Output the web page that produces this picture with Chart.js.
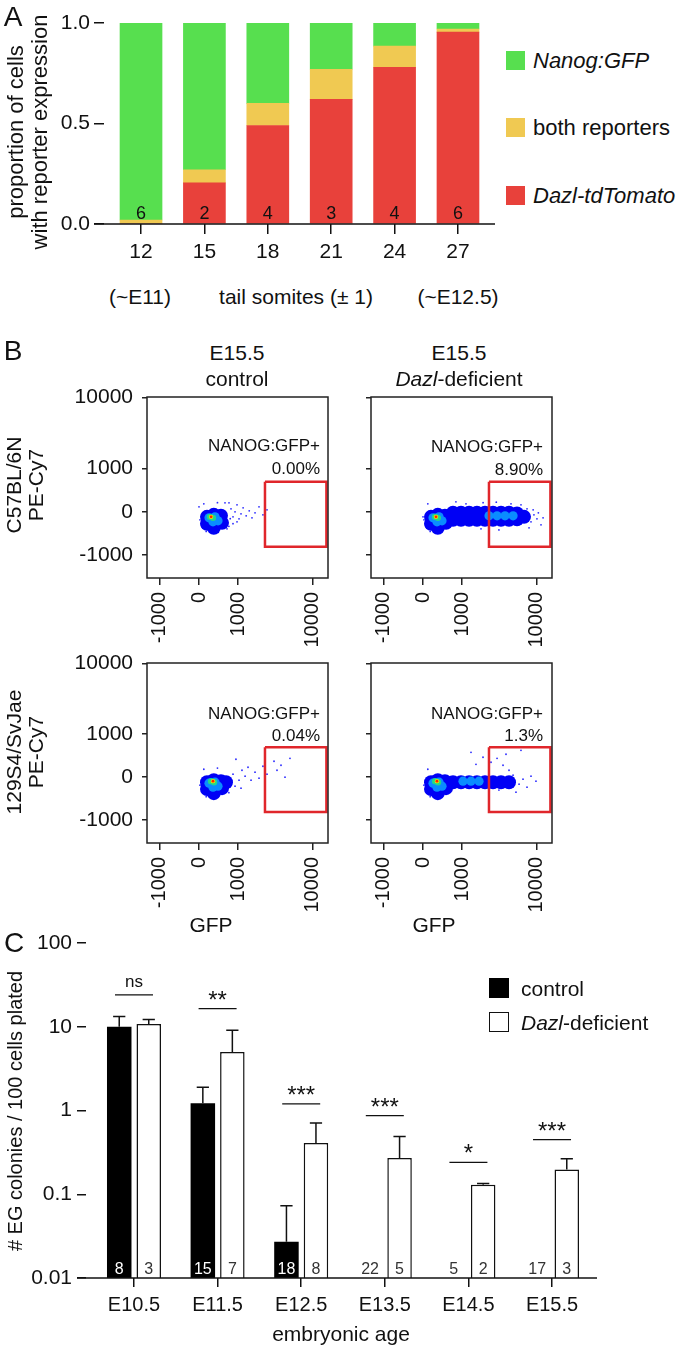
<!DOCTYPE html>
<html><head><meta charset="utf-8">
<script src="https://cdn.jsdelivr.net/npm/chart.js@4.4.1/dist/chart.umd.min.js"></script>
<style>
html,body{margin:0;padding:0;background:#fff;}
#root{position:relative;width:677px;height:1346px;overflow:hidden;font-family:'Liberation Sans',Arial,Helvetica,sans-serif;color:#111;}
canvas{position:absolute;}
.t{position:absolute;white-space:nowrap;line-height:1;}
.cc{transform:translate(-50%,-50%);}
.lc{transform:translate(0,-50%);}
.rc{transform:translate(-100%,-50%);}
.rot{transform:translate(-50%,-50%) rotate(-90deg);text-align:center;}
.sq{position:absolute;box-sizing:border-box;}
</style></head><body><div id="root">
<canvas id="cA" width="520" height="270" style="left:0;top:0"></canvas>
<canvas id="cB1" width="340" height="280" style="left:0;top:380px"></canvas>
<canvas id="cB2" width="337" height="280" style="left:340px;top:380px"></canvas>
<canvas id="cB3" width="340" height="280" style="left:0;top:646px"></canvas>
<canvas id="cB4" width="337" height="280" style="left:340px;top:646px"></canvas>
<canvas id="cC" width="677" height="446" style="left:0;top:900px"></canvas>

<!-- panel letters -->
<div class="t cc" style="left:13px;top:17px;font-size:28px">A</div>
<div class="t cc" style="left:13px;top:351px;font-size:28px">B</div>
<div class="t cc" style="left:14px;top:943px;font-size:28px">C</div>

<!-- panel A texts -->
<div class="t rot" style="left:28px;top:132px;font-size:22px;line-height:24px">proportion of cells<br>with reporter expression</div>
<div class="t cc" style="left:140px;top:296px;font-size:21px">(~E11)</div>
<div class="t cc" style="left:296px;top:296px;font-size:21px">tail somites (± 1)</div>
<div class="t cc" style="left:458px;top:296px;font-size:21px">(~E12.5)</div>
<div class="sq" style="left:506px;top:51px;width:19px;height:19px;background:#57DF4F"></div>
<div class="sq" style="left:506px;top:118px;width:19px;height:19px;background:#F0C952"></div>
<div class="sq" style="left:506px;top:186px;width:19px;height:19px;background:#E8413B"></div>
<div class="t lc" style="left:533px;top:61px;font-size:22px;font-style:italic">Nanog:GFP</div>
<div class="t lc" style="left:533px;top:128px;font-size:22px">both reporters</div>
<div class="t lc" style="left:533px;top:196px;font-size:22px;font-style:italic">Dazl-tdTomato</div>

<!-- panel B texts -->
<div class="t cc" style="left:237px;top:352px;font-size:21px">E15.5</div>
<div class="t cc" style="left:237px;top:378px;font-size:21px">control</div>
<div class="t cc" style="left:459px;top:352px;font-size:21px">E15.5</div>
<div class="t cc" style="left:459px;top:378px;font-size:21px"><i>Dazl</i>-deficient</div>
<div class="t rot" style="left:25px;top:485px;font-size:21px;line-height:22px">C57BL/6N<br>PE-Cy7</div>
<div class="t rot" style="left:25px;top:752px;font-size:21px;line-height:22px">129S4/SvJae<br>PE-Cy7</div>
<div class="t rc" style="left:320px;top:445px;font-size:17px">NANOG:GFP+</div>
<div class="t rc" style="left:320px;top:468px;font-size:17px">0.00%</div>
<div class="t rc" style="left:543px;top:446px;font-size:17px">NANOG:GFP+</div>
<div class="t rc" style="left:543px;top:469px;font-size:17px">8.90%</div>
<div class="t rc" style="left:320px;top:713px;font-size:17px">NANOG:GFP+</div>
<div class="t rc" style="left:320px;top:735px;font-size:17px">0.04%</div>
<div class="t rc" style="left:543px;top:713px;font-size:17px">NANOG:GFP+</div>
<div class="t rc" style="left:543px;top:735px;font-size:17px">1.3%</div>
<div class="t cc" style="left:211px;top:924px;font-size:21px">GFP</div>
<div class="t cc" style="left:434px;top:924px;font-size:21px">GFP</div>

<!-- panel C texts -->
<div class="t rot" style="left:15px;top:1111px;font-size:20px"># EG colonies / 100 cells plated</div>
<div class="t cc" style="left:341px;top:1333px;font-size:21px">embryonic age</div>
<div class="sq" style="left:489px;top:978px;width:20px;height:20px;background:#000"></div>
<div class="sq" style="left:489px;top:1012px;width:20px;height:20px;background:#fff;border:1.5px solid #111"></div>
<div class="t lc" style="left:521px;top:988px;font-size:21px">control</div>
<div class="t lc" style="left:521px;top:1022px;font-size:21px"><i>Dazl</i>-deficient</div>
</div>
<script>
// ---------------- Panel A data ----------------
const somites = ['12', '15', '18', '21', '24', '27'];
const dazlTdTomato = [0, 0.205, 0.49, 0.62, 0.78, 0.955];
const bothReporters = [0.02, 0.065, 0.11, 0.15, 0.105, 0.015];
const nanogGFP = [0.98, 0.73, 0.40, 0.23, 0.115, 0.03];
const embryosA = [6, 2, 4, 3, 4, 6];

// ---------------- Panel B data (raw fluorescence; [GFP, PE-Cy7, density level]) ----------------
// density level: 0 sparse, 1 low, 2 medium, 3 high, 4 very high, 5 peak
const flowTicks = [-1000, 0, 1000, 10000];
const gateGFP = [2400, 15000];
const gatePECy7 = [-736, 600];
const b6Control = [
  [167,-87,1],[167,-210,1],[315,-52,1],[315,-176,1],[315,-289,1],[485,-69,1],[512,-194,1],
  [210,-105,2],[343,-87,2],[297,-176,2],[413,-158,2],
  [231,-87,3],[297,-105,3],[255,-87,4],[255,-87,5],
  [763,52,0],[826,-87,0],[892,0,0],[960,122,0],[1032,-122,0],[1107,-35,0],[1190,69,0],[1320,-69,0],
  [1460,17,0],[1597,-105,0],[1760,-17,0],[1995,87,0],[2254,-52,0],[2555,35,0],[826,-210,0],
  [960,-176,0],[703,158,0],[0,87,0],[62,-270,0],[646,-308,0],[591,158,0],
  [20,-140,0],[100,140,0],[400,160,0],[700,-260,0],[420,-380,0],[150,-360,0],[740,-120,0]
];
const b6Dazl = [
  [167,-87,1],[167,-210,1],[315,-52,1],[315,-176,1],[315,-289,1],[485,-69,1],[512,-194,1],
  [703,-17,1],[703,-140,1],[960,-17,1],[960,-140,1],[1273,-17,1],[1273,-140,1],[1647,-17,1],[1647,-140,1],
  [2121,-17,1],[2121,-140,1],[2716,-17,1],[2716,-140,1],[3458,-17,1],[3458,-140,1],[4396,-17,1],[4396,-140,1],
  [5580,-30,1],[5580,-130,1],[6870,-87,1],
  [210,-105,2],[343,-87,2],[297,-176,2],[413,-158,2],[2403,-69,2],[3070,-69,2],[3900,-69,2],[4960,-69,2],
  [255,-87,3],[315,-105,3],[275,-87,4],[275,-87,5],
  [7510,52,0],[8450,-176,0],[9220,-52,0],[10080,-122,0],[11360,-231,0],[12070,-105,0],[7970,-289,0],
  [6280,122,0],[4668,140,0],[3250,-329,0],[1874,-308,0],[1145,140,0],[792,176,0],[0,-87,0],[62,-270,0],
  [9000,35,0],[10500,-17,0],[20,-140,0],[100,140,0],[150,-360,0],[2000,160,0],[3000,170,0]
];
const s129Control = [
  [167,-87,1],[167,-210,1],[315,-52,1],[315,-176,1],[315,-289,1],[485,-69,1],[512,-194,1],[618,-87,1],
  [210,-105,2],[343,-87,2],[297,-176,2],[413,-158,2],
  [255,-69,3],[320,-87,3],[297,-69,4],[297,-69,5],
  [826,52,0],[923,329,0],[1032,-52,0],[1145,122,0],[1273,17,0],[1403,176,0],[1549,-52,0],[1760,87,0],
  [1995,-17,0],[2254,194,0],[2555,52,0],[3160,289,0],[3458,122,0],[3900,213,0],[4396,0,0],[5100,349,0],
  [892,-158,0],[1107,-194,0],[20,-140,0],[100,140,0],[400,160,0],[150,-360,0],[700,-280,0]
];
const s129Dazl = [
  [167,-87,1],[167,-210,1],[315,-52,1],[315,-176,1],[315,-289,1],[485,-69,1],[512,-194,1],
  [703,-87,1],[960,-87,1],[1273,-87,1],[1647,-87,1],[2121,-87,1],[2716,-87,1],[3458,-87,1],[4396,-87,1],
  [210,-105,2],[343,-87,2],[297,-176,2],[413,-158,2],[1032,-69,2],[1357,-69,2],[1760,-69,2],
  [255,-69,3],[320,-87,3],[297,-69,4],[297,-69,5],
  [4960,35,0],[5930,-122,0],[6670,-35,0],[7510,-176,0],[8450,17,0],[9790,-69,0],[2555,270,0],[3070,349,0],
  [3675,213,0],[4396,122,0],[1995,370,0],[1597,231,0],[1357,479,0],[2403,-231,0],[3250,-231,0],
  [5412,-270,0],[6280,526,0],[4018,435,0],[20,-140,0],[100,140,0],[150,-360,0]
];

// ---------------- Panel C data ----------------
const ages = ['E10.5', 'E11.5', 'E12.5', 'E13.5', 'E14.5', 'E15.5'];
const ctrlMean = [10, 1.22, 0.027, null, null, null];
const ctrlSem = [3.3, 0.68, 0.046, null, null, null];
const dazlMean = [10.8, 4.98, 0.41, 0.27, 0.13, 0.197];
const dazlSem = [1.4, 4.1, 0.30, 0.22, 0.004, 0.068];
const ctrlN = [8, 15, 18, 22, 5, 17];
const dazlN = [3, 7, 8, 5, 2, 3];
const sigLabel = ['ns', '**', '***', '***', '*', '***'];
const sigLevel = [24, 16.5, 1.2, 0.87, 0.24, 0.45];
const cTicks = [0.01, 0.1, 1, 10, 100];

// ---------------- common ----------------
const FF = "'Liberation Sans', Arial, Helvetica, sans-serif";
Chart.defaults.font.family = FF;
Chart.defaults.color = '#111';
const INK = '#111';
const baseOpts = {responsive:false, animation:false, events:[], plugins:{legend:{display:false}, tooltip:{enabled:false}}};
const noPad = s => { s.paddingLeft = 0; s.paddingRight = 0; s.paddingTop = 0; s.paddingBottom = 0; };
const fixH = h => s => { s.height = h; noPad(s); };
const fixW = w => s => { s.width = w; noPad(s); };

// ---------------- Panel A ----------------
const aPlugin = {id:'aExtras', afterDatasetsDraw(chart){
  const {ctx, scales:{x, y}} = chart;
  ctx.save();
  ctx.strokeStyle = INK; ctx.lineWidth = 1.5;
  ctx.beginPath(); ctx.moveTo(x.left - 10, y.bottom); ctx.lineTo(x.right, y.bottom); ctx.stroke();
  ctx.fillStyle = INK; ctx.font = '18px ' + FF; ctx.textAlign = 'center'; ctx.textBaseline = 'alphabetic';
  embryosA.forEach((n, i) => ctx.fillText(String(n), x.getPixelForValue(i), y.bottom - 5));
  ctx.restore();
}};
const toXY = arr => arr.map((v, i) => ({x:i, y:v}));
new Chart(document.getElementById('cA'), {
  type:'bar',
  data:{datasets:[
    {label:'Dazl-tdTomato', data:toXY(dazlTdTomato), backgroundColor:'#E8413B', stack:'s', barThickness:42, borderWidth:0},
    {label:'both reporters', data:toXY(bothReporters), backgroundColor:'#F0C952', stack:'s', barThickness:42, borderWidth:0},
    {label:'Nanog:GFP', data:toXY(nanogGFP), backgroundColor:'#57DF4F', stack:'s', barThickness:42, borderWidth:0}
  ]},
  options:Object.assign({}, baseOpts, {
    layout:{padding:{top:23, left:0, right:25, bottom:0}},
    scales:{
      x:{type:'linear', min:-0.584, max:5.584, offset:false,
        afterBuildTicks:s => { s.ticks = somites.map((_, i) => ({value:i})); },
        ticks:{callback:(v, i) => somites[i], font:{size:21}, color:INK, padding:6, autoSkip:false, maxRotation:0},
        grid:{display:true, drawOnChartArea:false, drawTicks:true, tickLength:10, color:INK, lineWidth:1.5, offset:false},
        border:{display:false}, afterFit:fixH(46)},
      y:{type:'linear', min:0, max:1, stacked:true,
        ticks:{stepSize:0.5, callback:v => v.toFixed(1), font:{size:21}, color:INK, padding:4},
        grid:{display:true, drawOnChartArea:false, drawTicks:true, tickLength:10, color:INK, lineWidth:1.5},
        border:{display:false}, afterFit:fixW(104)}
    }
  }),
  plugins:[aPlugin]
});

// ---------------- Panel B ----------------
const asX = v => Math.asinh(v / 700);
const asY = v => Math.asinh(v / 550);
const levelStyle = [
  {c:'#2a2aff', r:0.9}, {c:'#0000f5', r:7}, {c:'#0a8cff', r:4.6},
  {c:'#22d98a', r:3.2}, {c:'#f0e400', r:2.2}, {c:'#ff2400', r:1.4}
];
const boxPlugin = {id:'box', afterDatasetsDraw(chart){
  const {ctx, chartArea:a} = chart;
  ctx.save(); ctx.strokeStyle = '#222'; ctx.lineWidth = 1.5;
  ctx.strokeRect(a.left, a.top, a.right - a.left, a.bottom - a.top); ctx.restore();
}};
function makeFlow(id, cloud, showY, yw, padTop, padRight, xh){
  const gate = [[gateGFP[0], gatePECy7[1]], [gateGFP[1], gatePECy7[1]], [gateGFP[1], gatePECy7[0]],
                [gateGFP[0], gatePECy7[0]], [gateGFP[0], gatePECy7[1]]];
  const ds = [{type:'line', data:gate.map(p => ({x:asX(p[0]), y:asY(p[1])})), borderColor:'#E0262B',
               borderWidth:2.5, pointRadius:0, showLine:true, fill:false, tension:0, borderJoinStyle:'miter'}];
  for (let L = 5; L >= 0; L--) {
    ds.push({type:'scatter', data:cloud.filter(p => p[2] === L).map(p => ({x:asX(p[0]), y:asY(p[1])})),
             backgroundColor:levelStyle[L].c, pointRadius:levelStyle[L].r, pointBorderWidth:0, borderWidth:0});
  }
  new Chart(document.getElementById(id), {
    type:'scatter',
    data:{datasets:ds},
    options:Object.assign({}, baseOpts, {
      layout:{padding:{top:padTop, left:0, right:padRight, bottom:0}},
      scales:{
        x:{type:'linear', min:-1.534, max:3.805,
          afterBuildTicks:s => { s.ticks = flowTicks.map(v => ({value:asX(v)})); },
          ticks:{callback:(v, i) => String(flowTicks[i]), minRotation:90, maxRotation:90, padding:7,
                 font:{size:20}, color:INK, autoSkip:false},
          grid:{display:true, drawOnChartArea:false, drawTicks:true, tickLength:7, color:'#222', lineWidth:1.5},
          border:{display:false}, afterFit:fixH(xh)},
        y:{type:'linear', min:-2.08, max:3.61,
          afterBuildTicks:s => { s.ticks = flowTicks.map(v => ({value:asY(v)})); },
          ticks:{display:showY, callback:(v, i) => String(flowTicks[i]), padding:9, font:{size:21}, color:INK},
          grid:{display:true, drawOnChartArea:false, drawTicks:true, tickLength:5, color:'#222', lineWidth:1.5},
          border:{display:false}, afterFit:fixW(yw)}
      }
    }),
    plugins:[boxPlugin]
  });
}
makeFlow('cB1', b6Control, true, 147, 17, 12, 82);
makeFlow('cB2', b6Dazl, false, 31, 17, 125, 82);
makeFlow('cB3', s129Control, true, 147, 17, 12, 83);
makeFlow('cB4', s129Dazl, false, 31, 17, 125, 83);

// ---------------- Panel C ----------------
const cPlugin = {id:'cExtras', afterDatasetsDraw(chart){
  const {ctx, scales:{x, y}} = chart;
  const m0 = chart.getDatasetMeta(0), m1 = chart.getDatasetMeta(1);
  ctx.save();
  ctx.strokeStyle = INK; ctx.lineWidth = 1.5;
  ctx.beginPath(); ctx.moveTo(x.left - 9, y.bottom); ctx.lineTo(x.right, y.bottom); ctx.stroke();
  const err = (el, mean, sem) => {
    if (mean == null || sem == null) return;
    const b = y.getPixelForValue(mean), t = y.getPixelForValue(mean + sem), hw = el.width / 4;
    ctx.beginPath(); ctx.moveTo(el.x, b); ctx.lineTo(el.x, t);
    ctx.moveTo(el.x - hw, t); ctx.lineTo(el.x + hw, t); ctx.stroke();
  };
  ages.forEach((a, i) => { err(m0.data[i], ctrlMean[i], ctrlSem[i]); err(m1.data[i], dazlMean[i], dazlSem[i]); });
  // significance
  ctx.lineWidth = 1.3; ctx.textAlign = 'center'; ctx.textBaseline = 'alphabetic'; ctx.fillStyle = INK;
  sigLabel.forEach((s, i) => {
    const cx = x.getPixelForValue(i), ly = y.getPixelForValue(sigLevel[i]);
    ctx.beginPath(); ctx.moveTo(cx - 19, ly); ctx.lineTo(cx + 19, ly); ctx.stroke();
    if (s === 'ns') { ctx.font = '17px ' + FF; ctx.fillText(s, cx, ly - 8); }
    else { ctx.font = '24px ' + FF; ctx.fillText(s, cx, ly - 1); }
  });
  // n labels
  ctx.font = '16px ' + FF;
  ages.forEach((a, i) => {
    const cx = x.getPixelForValue(i), e1 = m1.data[i];
    const off = e1.x - cx;
    ctx.fillStyle = ctrlMean[i] == null ? '#333' : '#fff';
    ctx.fillText(String(ctrlN[i]), cx - off, y.bottom - 4);
    ctx.fillStyle = '#333';
    ctx.fillText(String(dazlN[i]), e1.x, y.bottom - 4);
  });
  ctx.restore();
}};
new Chart(document.getElementById('cC'), {
  type:'bar',
  data:{datasets:[
    {label:'control', data:toXY(ctrlMean), backgroundColor:'#000', borderColor:'#000', borderWidth:0,
     categoryPercentage:0.706, barPercentage:0.83},
    {label:'Dazl-deficient', data:toXY(dazlMean), backgroundColor:'#fff', borderColor:INK, borderWidth:1.5,
     categoryPercentage:0.706, barPercentage:0.83}
  ]},
  options:Object.assign({}, baseOpts, {
    layout:{padding:{top:43, left:0, right:80, bottom:0}},
    scales:{
      x:{type:'linear', min:-0.574, max:5.538, offset:false,
        afterBuildTicks:s => { s.ticks = ages.map((_, i) => ({value:i})); },
        ticks:{callback:(v, i) => ages[i], font:{size:20}, color:INK, padding:6, autoSkip:false, maxRotation:0},
        grid:{display:true, drawOnChartArea:false, drawTicks:true, tickLength:9, color:INK, lineWidth:1.5, offset:false},
        border:{display:false}, afterFit:fixH(68)},
      y:{type:'logarithmic', min:0.01, max:100,
        afterBuildTicks:s => { s.ticks = cTicks.map(v => ({value:v})); },
        ticks:{callback:v => String(v), font:{size:21}, color:INK, padding:5},
        grid:{display:true, drawOnChartArea:false, drawTicks:true, tickLength:9, color:INK, lineWidth:1.5},
        border:{display:false}, afterFit:fixW(86)}
    }
  }),
  plugins:[cPlugin]
});
</script>
</body></html>
